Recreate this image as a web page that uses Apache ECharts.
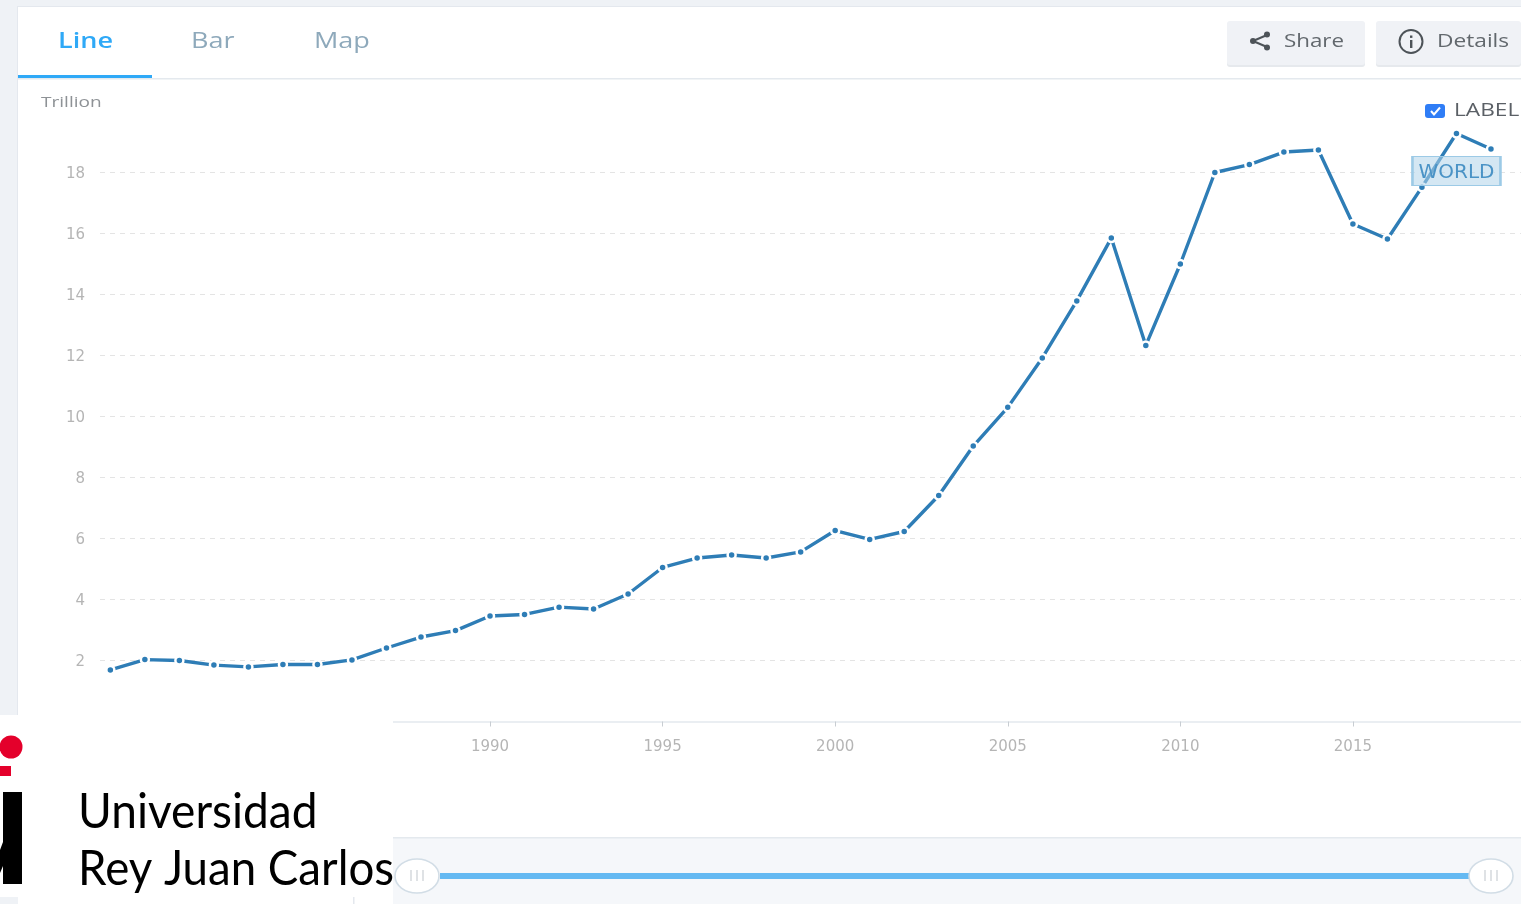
<!DOCTYPE html>
<html><head><meta charset="utf-8">
<style>html,body{margin:0;padding:0;background:#eff2f6;overflow:hidden}#c{width:1521px;height:904px}</style>
<script src="https://cdn.jsdelivr.net/npm/echarts@6/dist/echarts.min.js"></script>
</head><body><div id="c"></div>
<script>
const years=[1979,1980,1981,1982,1983,1984,1985,1986,1987,1988,1989,1990,1991,1992,1993,1994,1995,1996,1997,1998,1999,2000,2001,2002,2003,2004,2005,2006,2007,2008,2009,2010,2011,2012,2013,2014,2015,2016,2017,2018,2019];
const world=[1.69,2.03,2.0,1.85,1.79,1.87,1.87,2.02,2.41,2.77,2.98,3.46,3.51,3.75,3.69,4.18,5.05,5.36,5.46,5.36,5.56,6.26,5.97,6.23,7.41,9.03,10.3,11.92,13.79,15.85,12.33,15.0,18.0,18.26,18.67,18.74,16.31,15.82,17.52,19.28,18.77];
const yearTicks=[1990,1995,2000,2005,2010,2015];
const seriesName='WORLD';
const unitLabel='Trillion';
const tabs=['Line','Bar','Map'];
const FONT='"Open Sans"';
const pts=years.map((y,i)=>[y,world[i]]);
const rect=(x,y,w,h,fill,extra)=>Object.assign({type:'rect',shape:{x,y,width:w,height:h,r:(extra&&extra.r)||0},style:{fill}},extra&&extra.o);
const txt=(x,y,t,size,fill,weight,sx)=>({type:'text',x,y,scaleX:sx||1.23,style:{text:t,fontFamily:FONT,fontSize:size,fill,fontWeight:weight||400,verticalAlign:'middle'}});
const line=(x1,y1,x2,y2,c,w)=>({type:'line',shape:{x1,y1,x2,y2},style:{stroke:c,lineWidth:w}});
const behind=[
 rect(17,6,1504,898,'#e4e8ee'),
 rect(18,7,1503,897,'#ffffff'),
 rect(18,78,1503,1.5,'#e4e9ee'),
 rect(18,75,134,3,'#2fa9f7'),
 txt(58,42,tabs[0],22,'#2fa9f7',600),
 txt(191,42,tabs[1],22,'#8ea9bb'),
 txt(314,42,tabs[2],22,'#8ea9bb'),
 rect(1227,23,138,44,'#e6e9ed',{r:3}),
 rect(1227,21,138,44,'#f0f2f6',{r:3}),
 rect(1376,23,145,44,'#e6e9ed',{r:3}),
 rect(1376,21,145,44,'#f0f2f6',{r:3}),
 line(1267,35,1253,41,'#4d5358',2),line(1253,41,1267,47,'#4d5358',2),
 {type:'circle',shape:{cx:1267,cy:34.5,r:3},style:{fill:'#4d5358'}},
 {type:'circle',shape:{cx:1267,cy:47.5,r:3},style:{fill:'#4d5358'}},
 {type:'circle',shape:{cx:1253,cy:41,r:3},style:{fill:'#4d5358'}},
 txt(1284,42,'Share',18,'#62686d',400,1.24),
 {type:'circle',shape:{cx:1411,cy:41.5,r:11.5},style:{fill:'none',stroke:'#4d5358',lineWidth:2}},
 rect(1410,40,2.4,8,'#4d5358'),
 rect(1410,35.5,2.4,2.4,'#4d5358'),
 txt(1437,42,'Details',18,'#62686d',400,1.26),
 txt(41,103,unitLabel,15,'#8e9296',400,1.27),
 rect(1425,104,20,14,'#2f7df6',{r:3}),
 {type:'polyline',shape:{points:[[1431,111],[1434,114.5],[1440,107.5]]},style:{stroke:'#fff',lineWidth:2,fill:'none'}},
 txt(1454,111,'LABEL',18,'#5b6066',400,1.26),
 rect(393,838,1128,66,'#f5f7fa'),
 rect(393,837,1128,1.5,'#e4e9ee')
];
behind.forEach(e=>{e.z=-1});
const front=[
 rect(440,873,1032,6,'#64b9f2'),
 {type:'ellipse',shape:{cx:417,cy:876,rx:22,ry:17},style:{fill:'#fff',stroke:'#d2dde6',lineWidth:1.6}},
 {type:'ellipse',shape:{cx:1491,cy:876,rx:22,ry:17},style:{fill:'#fff',stroke:'#d2dde6',lineWidth:1.6}},
 ...[411,417,423,1485,1491,1497].map(x=>rect(x-0.75,870,1.5,11,'#d5d8dc')),
 rect(0,715,393,182,'#ffffff'),
 rect(0,897,18,7,'#eff2f6'),
 rect(353,897,1.5,7,'#e4e8ee'),
 {type:'circle',shape:{cx:11,cy:747,r:11.5},style:{fill:'#e4002b'}},
 rect(0,766,11,10,'#e4002b'),
 {type:'polygon',shape:{points:[[3,792],[22,792],[22,884],[3,884],[3,866],[0,873],[0,850],[3,842]]},style:{fill:'#000'}},
 {type:'text',x:78,y:812,scaleX:0.94,style:{text:'Universidad',fontFamily:'Lato',fontSize:49,fill:'#000',verticalAlign:'middle'}},
 {type:'text',x:78,y:869,scaleX:0.932,style:{text:'Rey Juan Carlos',fontFamily:'Lato',fontSize:49,fill:'#000',verticalAlign:'middle'}}
];
front.forEach(e=>{e.z=100});
const chart=echarts.init(document.getElementById('c'),null,{renderer:'canvas'});
chart.setOption({
 animation:false,backgroundColor:'#eff2f6',
 grid:{left:100,right:0,top:111.5,bottom:182.5,containLabel:false},
 xAxis:{type:'value',min:1978.7,max:2019.87,
  axisLine:{show:true,onZero:false,lineStyle:{color:'#e4e9ee',width:1.5}},
  axisTick:{show:true,customValues:yearTicks,length:5,lineStyle:{color:'#c8cdd2'}},
  axisLabel:{customValues:yearTicks,color:'#b5b5b5',fontFamily:'DejaVu Sans',fontSize:15,margin:18,formatter:v=>String(v)},
  splitLine:{show:false}},
 yAxis:{type:'value',min:0,max:20,interval:2,
  axisLine:{show:false},axisTick:{show:false},
  axisLabel:{color:'#b5b5b5',fontFamily:'DejaVu Sans',fontSize:15,margin:15,verticalAlign:'top',lineHeight:3,showMinLabel:false,showMaxLabel:false},
  splitLine:{show:true,showMinLine:false,showMaxLine:false,lineStyle:{color:'#e4e4e4',type:[5,5],width:1}}},
 series:[{type:'line',name:seriesName,data:pts,symbol:'circle',symbolSize:8,showSymbol:true,
  lineStyle:{color:'#2e7db6',width:3.4},
  itemStyle:{color:'#2e7db6',borderColor:'#fff',borderWidth:2.5},
  markPoint:{symbol:'rect',symbolSize:[88,29],silent:true,
   data:[{coord:[2018,18.05],value:seriesName}],
   itemStyle:{color:'rgba(176,212,234,0.55)',borderColor:'#9ccae6',borderWidth:1.5},
   label:{show:true,position:'inside',offset:[0,1.5],formatter:seriesName,color:'#4a93c6',fontFamily:'DejaVu Sans',fontSize:20}}}],
 graphic:{elements:[...behind,...front]}
});
</script></body></html>
